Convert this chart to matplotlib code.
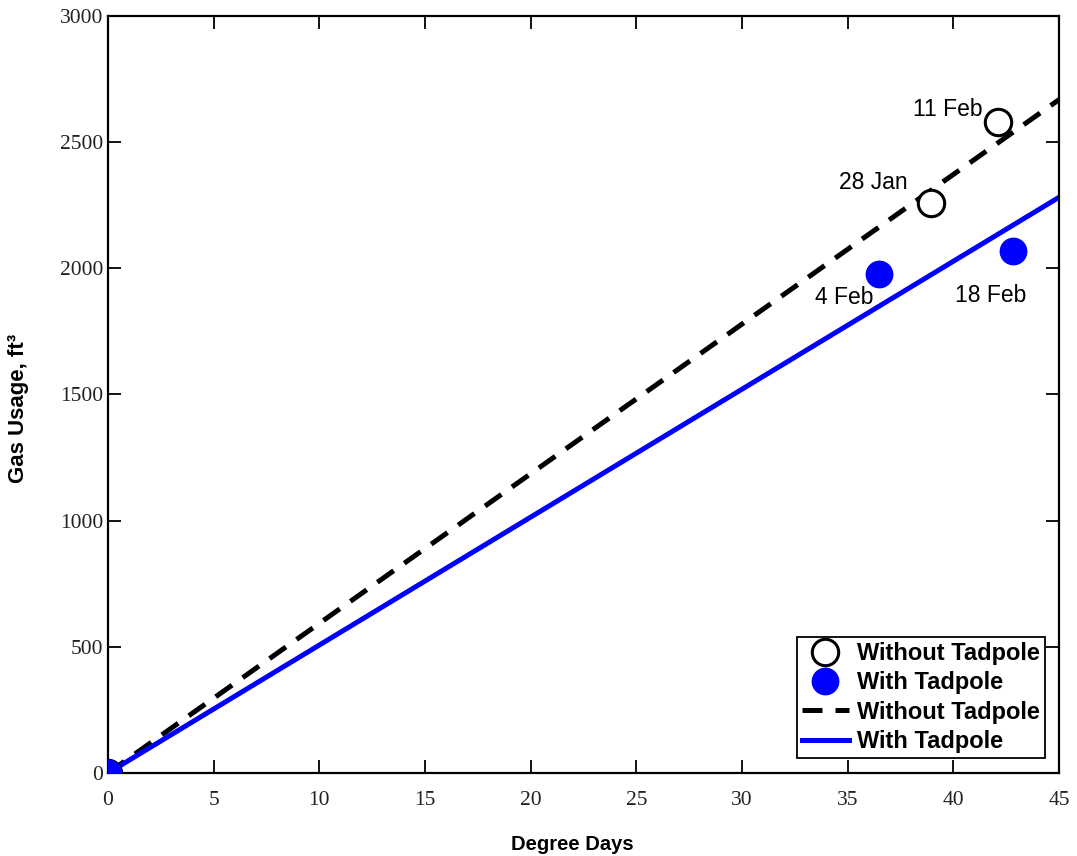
import numpy as np
from matplotlib import pyplot as plt

# measured points (degree days, gas usage in ft^3)
without_dd = [0, 38.95, 42.1]
without_gas = [0, 2259, 2580]
with_dd = [0, 36.5, 42.8]
with_gas = [0, 1978, 2069]
labels_without = ["28 Jan", "11 Feb"]
labels_with = ["4 Feb", "18 Feb"]

# fitted lines through the origin
fit_dd = [0, 45]
slope_without = 59.3
slope_with = 50.7

serif = "Liberation Serif"
sans = "Liberation Sans"

fig = plt.figure(figsize=(10.77, 8.56), dpi=100)
ax = fig.add_axes([0.1003, 0.0970, 0.8830, 0.8843])

l1, = ax.plot(fit_dd, [slope_without * d for d in fit_dd], color="black",
              linestyle=(0, (4, 2.6)), linewidth=3.6, zorder=2)
l2, = ax.plot(fit_dd, [slope_with * d for d in fit_dd], color="#0000ff",
              linewidth=3.6, zorder=2)
p1, = ax.plot(without_dd, without_gas, "o", markersize=19, markerfacecolor="white",
              markeredgecolor="black", markeredgewidth=2.2, zorder=3)
p2, = ax.plot(with_dd, with_gas, "o", markersize=19, color="#0000ff", zorder=3)

# date labels (offsets in data units)
offs_without = [(-1.1, 80), (-0.7, 50)]
for d, g, t, o in zip(without_dd[1:], without_gas[1:], labels_without, offs_without):
    ax.text(d + o[0], g + o[1], t, ha="right", va="center", fontsize=16.5, family=sans)
offs_with = [(-0.3, -95), (-1.05, -175)]
for d, g, t, o in zip(with_dd[1:], with_gas[1:], labels_with, offs_with):
    ax.text(d + o[0], g + o[1], t, ha="right" if t == "4 Feb" else "center",
            va="center", fontsize=16.5, family=sans)

ax.set_xlim(0, 45)
ax.set_ylim(0, 3000)
ax.set_xticks(np.arange(0, 46, 5))
ax.set_yticks(np.arange(0, 3001, 500))
ax.tick_params(direction="in", length=9.5, width=1.3, top=True, right=True,
               labelsize=15.5, labelcolor="#222222")
ax.tick_params(axis="x", pad=13)
ax.tick_params(axis="y", pad=3.5)
for lab in ax.get_xticklabels() + ax.get_yticklabels():
    lab.set_family(serif)
for s in ax.spines.values():
    s.set_linewidth(1.6)

ax.set_xlabel("Degree Days", fontsize=14.5, fontweight="bold", family=sans)
ax.set_ylabel("Gas Usage, ft³", fontsize=16, fontweight="bold", family=sans)
ax.xaxis.set_label_coords(0.488, -0.082)
ax.yaxis.set_label_coords(-0.083, 0.482)

leg = ax.legend([p1, p2, l1, l2],
                ["Without Tadpole", "With Tadpole", "Without Tadpole", "With Tadpole"],
                loc="lower right", bbox_to_anchor=(0.985, 0.02), fancybox=False,
                edgecolor="black", framealpha=1, borderpad=0.2, labelspacing=0.27,
                handlelength=2.0, handletextpad=0.35, borderaxespad=0,
                prop={"family": sans, "weight": "bold", "size": 17})
leg.get_frame().set_linewidth(1.3)

fig.savefig("out.png", dpi=100)
